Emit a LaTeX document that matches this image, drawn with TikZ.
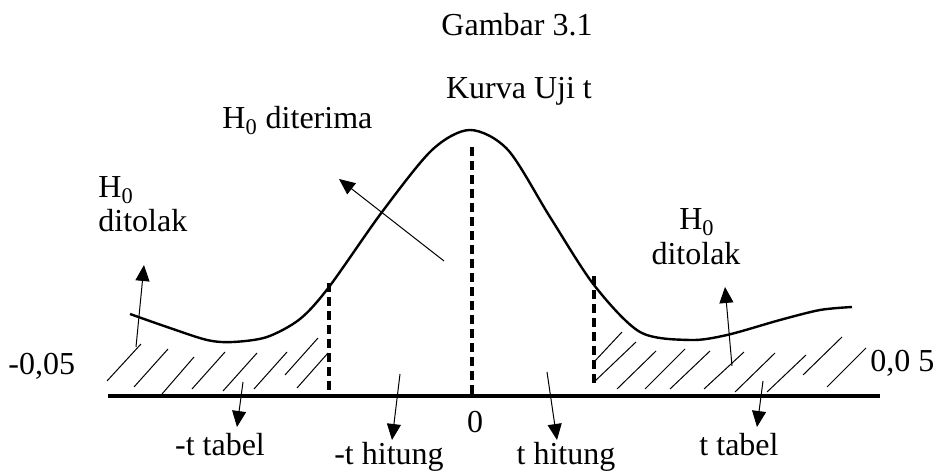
\documentclass[tikz,border=0pt]{standalone}
\usepackage{fontspec}
\setmainfont{Liberation Serif}
\usetikzlibrary{arrows.meta}

\begin{document}
\begin{tikzpicture}[x=0.5pt, y=-0.5pt,
    txt/.style={inner sep=0pt, font=\fontsize{16}{19}\selectfont},
    pointer/.style={-{Triangle[length=8pt,width=7pt]}, line width=0.5pt},
    hatchline/.style={line width=0.5pt},
    cutline/.style={line width=1.8pt, dash pattern=on 4.5pt off 2.5pt}
]
    \useasboundingbox (0,0) rectangle (936,474);

    % Titles
    \node[txt, anchor=base] (title) at (517,36) {Gambar 3.1};
    \node[txt, anchor=base] (subtitle) at (519,99) {Kurva Uji t};

    % Axis
    \draw[line width=2pt] (108,396) -- (880,396);

    % Curve
    \draw[line width=1.2pt] plot[smooth] coordinates {(130,314) (167,327) (207,340) (233,342)
        (267,337) (300,319) (329,287) (382,212) (432,150) (470,130) (508,150) (550,217)
        (594,285) (640,332) (690,340) (727,335) (780,320) (820,310) (852,307)};

    % Hatching left
    \foreach \xa/\ya/\xb/\yb in {107/381/141/344, 134/387/168/349, 162/394/194/357,
        192/389/225/352, 223/391/257/353, 254/389/287/352, 285/375/318/338, 297/388/328/353}
        \draw[hatchline] (\xa,\ya) -- (\xb,\yb);

    % Hatching right
    \foreach \xa/\ya/\xb/\yb in {594/362/622/332, 594/382/636/342, 617/389/656/351,
        645/389/685/349, 670/389/710/351, 704/389/744/352, 735/392/775/353,
        767/392/806/355, 803/375/842/337, 827/387/866/348}
        \draw[hatchline] (\xa,\ya) -- (\xb,\yb);

    % Dashed lines
    \draw[cutline] (472,147) -- (472,396);
    \draw[cutline] (329,283) -- (329,390);
    \draw[cutline] (594,276) -- (594,388);

    % Labels
    \node[txt, anchor=base west] (accH) at (222,129) {H\textsubscript{0} diterima};
    \node[txt, anchor=base west] (rejLH) at (98,198) {H\textsubscript{0}};
    \node[txt, anchor=base west] (rejL) at (98,232) {ditolak};
    \node[txt, anchor=base] (rejRH) at (697,230) {H\textsubscript{0}};
    \node[txt, anchor=base] (rejR) at (696,265) {ditolak};
    \node[txt, anchor=base west] (alphaL) at (8,375) {-0,05};
    \node[txt, anchor=base west] (alphaR) at (870,372) {0,0 5};
    \node[txt, anchor=base] (zero) at (475,433) {0};
    \node[txt, anchor=base] (ttabL) at (220,456) {-t tabel};
    \node[txt, anchor=base] (ttabR) at (739,456) {t tabel};
    \node[txt, anchor=base] (thitL) at (389,465) {-t hitung};
    \node[txt, anchor=base] (thitR) at (566,465) {t hitung};

    % Arrow ends
    \coordinate (aL0) at (136,347);  \coordinate (aL1) at (144,265);
    \coordinate (aA0) at (444,261);  \coordinate (aA1) at (339,179);
    \coordinate (aR0) at (732,366);  \coordinate (aR1) at (725,287);
    \coordinate (tL0) at (243,382);  \coordinate (tL1) at (237,427);
    \coordinate (hL0) at (400,374);  \coordinate (hL1) at (392,440);
    \coordinate (hR0) at (547,372);  \coordinate (hR1) at (557,440);
    \coordinate (tR0) at (763,381);  \coordinate (tR1) at (757,427);

    % Arrows
    \draw[pointer] (aL0) -- (aL1);
    \draw[pointer] (aA0) -- (aA1);
    \draw[pointer] (aR0) -- (aR1);
    \draw[pointer] (tL0) -- (tL1);
    \draw[pointer] (hL0) -- (hL1);
    \draw[pointer] (hR0) -- (hR1);
    \draw[pointer] (tR0) -- (tR1);
\end{tikzpicture}
\end{document}
